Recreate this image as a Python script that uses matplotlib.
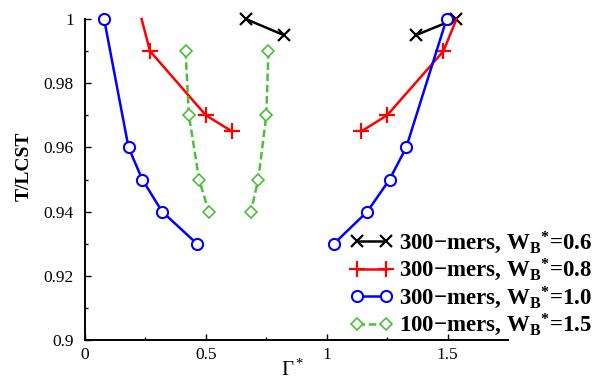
import numpy as np
import matplotlib
matplotlib.use("Agg")
import matplotlib.pyplot as plt
from matplotlib.ticker import FixedLocator

plt.rcParams['font.family'] = ['Liberation Serif', 'DejaVu Serif']
plt.rcParams['mathtext.fontset'] = 'custom'
plt.rcParams['mathtext.rm'] = 'Liberation Serif'
plt.rcParams['mathtext.it'] = 'Liberation Serif:italic'
plt.rcParams['mathtext.bf'] = 'Liberation Serif:bold'

nan = np.nan
# 300-mers, WB*=0.6 (two branches separated by NaN)
g06 = [0.665, 0.822, nan, 1.370, 1.533]
t06 = [1.000, 0.995, nan, 0.995, 1.000]
# 300-mers, WB*=0.8 (first point of each branch is where the curve leaves the top of the frame)
g08 = [0.234, 0.269, 0.500, 0.608, nan, 1.537, 1.483, 1.250, 1.143]
t08 = [1.000, 0.990, 0.970, 0.965, nan, 1.000, 0.990, 0.970, 0.965]
m08 = [1, 2, 3, 6, 7, 8]
# 300-mers, WB*=1.0
g10 = [0.079, 0.180, 0.237, 0.319, 0.463, nan, 1.496, 1.329, 1.260, 1.168, 1.030]
t10 = [1.000, 0.960, 0.950, 0.940, 0.930, nan, 1.000, 0.960, 0.950, 0.940, 0.930]
# 100-mers, WB*=1.5
g15 = [0.416, 0.430, 0.472, 0.512, nan, 0.759, 0.750, 0.717, 0.686]
t15 = [0.990, 0.970, 0.950, 0.940, nan, 0.990, 0.970, 0.950, 0.940]

labels = [r'300−mers, W$_{\mathbf{B}}$$^{\mathbf{*}}$=0.6',
          r'300−mers, W$_{\mathbf{B}}$$^{\mathbf{*}}$=0.8',
          r'300−mers, W$_{\mathbf{B}}$$^{\mathbf{*}}$=1.0',
          r'100−mers, W$_{\mathbf{B}}$$^{\mathbf{*}}$=1.5']

xticks = [0, 0.5, 1, 1.5]
xticklabels = ['0', '0.5', '1', '1.5']
yticks = [0.9, 0.92, 0.94, 0.96, 0.98, 1.0]
yticklabels = ['0.9', '0.92', '0.94', '0.96', '0.98', '1']

fig = plt.figure(figsize=(5.95, 3.81), dpi=100)
ax = fig.add_axes([85/595, 1-340/381, (508-85)/595, (340-19)/381])

lw = 1.8
ax.plot(g06, t06, color='black', lw=lw, marker='x', ms=9, mew=1.6, clip_on=False, label=labels[0])
ax.plot(g08, t08, color='#ff0000', lw=lw, marker='+', ms=12, mew=1.6, markevery=m08, clip_on=False, label=labels[1])
ax.plot(g10, t10, color='#0000ff', lw=lw, marker='o', ms=8, mfc='white', mew=1.5, clip_on=False, label=labels[2])
ax.plot(g15, t15, color='#4cbf3a', lw=lw, ls=(0, (3, 1.5)), marker='D', ms=6.5, mfc='white', mew=1.2, clip_on=False, label=labels[3])

ax.set_xlim(0, 1.75)
ax.set_ylim(0.9, 1.0)
ax.spines['top'].set_visible(False)
ax.spines['right'].set_visible(False)
for s in ('left', 'bottom'):
    ax.spines[s].set_linewidth(1.4)

ax.xaxis.set_major_locator(FixedLocator(xticks))
ax.set_xticklabels(xticklabels)
ax.xaxis.set_minor_locator(FixedLocator([0.25, 0.75, 1.25]))
ax.yaxis.set_major_locator(FixedLocator(yticks))
ax.set_yticklabels(yticklabels)
ax.yaxis.set_minor_locator(FixedLocator([0.91, 0.93, 0.95, 0.97, 0.99]))
ax.tick_params(which='major', direction='in', length=4, width=1.0, labelsize=12.5, top=False, right=False)
ax.tick_params(which='minor', direction='in', length=2, width=1.0, top=False, right=False)
ax.tick_params(axis='x', which='major', pad=5)
ax.tick_params(axis='y', which='major', pad=8)

fig.text(24/595, 1-166/381, 'T/LCST', rotation=90, fontsize=14, fontweight='bold', ha='center', va='center')
fig.text(292/595, 1-376/381, r'$\Gamma^*$', fontsize=15, ha='center', va='baseline')

leg = ax.legend(loc='center right', bbox_to_anchor=(592/595, 1-284/381), bbox_transform=fig.transFigure,
                frameon=False, numpoints=2, handlelength=1.9, handletextpad=0.25, labelspacing=0.05,
                prop={'size': 16.5, 'weight': 'bold'}, borderaxespad=0, borderpad=0)

fig.savefig('out.png', dpi=100)
